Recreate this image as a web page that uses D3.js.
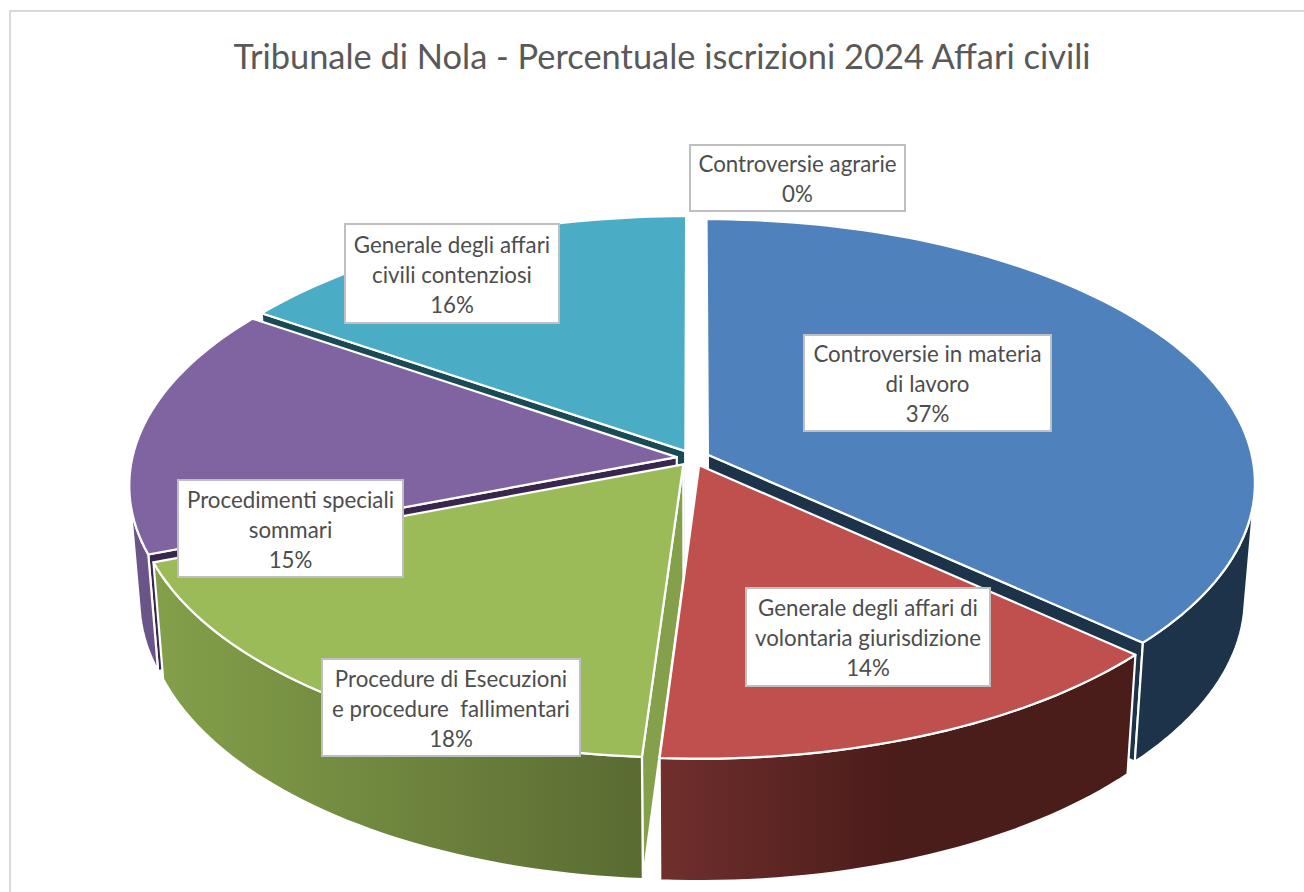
<!DOCTYPE html>
<html><head><meta charset="utf-8">
<script src="https://cdnjs.cloudflare.com/ajax/libs/d3/7.8.5/d3.min.js"></script>
<style>html,body{margin:0;padding:0;background:#fff}svg{display:block}</style>
</head><body><div id="chart"></div>
<script>
const chartTitle = "Tribunale di Nola - Percentuale iscrizioni 2024 Affari civili";
const categories = ["Controversie agrarie","Controversie in materia di lavoro","Generale degli affari di volontaria giurisdizione","Procedure di Esecuzioni e procedure  fallimentari","Procedimenti speciali sommari","Generale degli affari civili contenziosi"];
const values = [0,36.7,14.35,18.1,15.35,15.5];
const labelLines = [["Controversie agrarie"],["Controversie in materia","di lavoro"],["Generale degli affari di","volontaria giurisdizione"],["Procedure di Esecuzioni","e procedure  fallimentari"],["Procedimenti speciali","sommari"],["Generale degli affari","civili contenziosi"]];
const percentLabels = ["0%","37%","14%","18%","15%","16%"];
const topColors = ["#4BACC6","#4F81BD","#C0504D","#9BBB59","#8064A2","#4BACC6"];
const wallLeft  = ["#1a4a55","#1D3349","#702F2D","#84A04A","#6A5488","#1a4a55"];
const wallRight = ["#1a4a55","#1D3349","#4A1C1A","#5A6B32","#6A5488","#1a4a55"];
const wallMidStop = [1,1,0.5,1,1,1];
const cutColors = ["#1a4a55","#1D3349","#4A1C1A","#84A04A","#39264F","#1A4A55"];
const labelBoxes = [[690,145,215,66],[804,335,247,96],[746,588,244,98],[322,659,258,97],[178,480,225,97],[345,224,214,99]];
const drawOrder = [5,1,4,3,2];

const W=1304,H=892;
const svg=d3.select("#chart").append("svg").attr("width",W).attr("height",H);
const defs=svg.append("defs");
svg.append("rect").attr("x",10).attr("y",11).attr("width",W+20).attr("height",H+20).attr("fill","#fff").attr("stroke","#d9d9d9").attr("stroke-width",2);
svg.append("text").attr("x",662).attr("y",69).attr("text-anchor","middle").attr("font-family","Lato, 'Open Sans', sans-serif").attr("font-size",34.4).attr("fill","#595959").text(chartTitle);

// ground-plane projection with mild perspective
const cx=693,cy=458,RX=544.5,RY=261,persp=0.105,explode=0.03,depth=114,shrink=0.982;
const sx=d3.scaleLinear().domain([-1,1]).range([cx-RX,cx+RX]);
const sy=d3.scaleLinear().domain([-1,1]).range([cy-RY,cy+RY]);
function project(X,Y,bottom){
  const s=1/(1-persp*Y), k=bottom?shrink:1;
  const px=cx+(sx(X)-cx)*s*k;
  const py=cy+(sy(Y)-cy)*s*k+(bottom?depth*s:0);
  return [px,py];
}
const arcs=d3.pie().sort(null).value(d=>d)(values);
const line=d3.line();
function slice(i){
  const a=arcs[i], mid=(a.startAngle+a.endAngle)/2;
  const ox=explode*Math.sin(mid), oy=-explode*Math.cos(mid);
  const n=Math.max(2,Math.ceil((a.endAngle-a.startAngle)*40));
  const rim=d3.range(n+1).map(j=>{const t=a.startAngle+(a.endAngle-a.startAngle)*j/n;return [ox+Math.sin(t),oy-Math.cos(t)];});
  return {apex:[ox,oy],rim};
}
const quad=(P,Q)=>[project(P[0],P[1]),project(Q[0],Q[1]),project(Q[0],Q[1],true),project(P[0],P[1],true)];
const facing=q=>d3.polygonArea(q)>0;
const root=svg.append("g");
drawOrder.forEach(i=>{
  const s=slice(i), g=root.append("g");
  const gid="wall"+i;
  const lastPt=s.rim[s.rim.length-1];
  const lg=defs.append("linearGradient").attr("id",gid).attr("gradientUnits","userSpaceOnUse")
    .attr("x1",project(lastPt[0],lastPt[1])[0]).attr("x2",project(s.rim[0][0],s.rim[0][1])[0]).attr("y1",0).attr("y2",0);
  lg.append("stop").attr("offset",0).attr("stop-color",wallLeft[i]);
  lg.append("stop").attr("offset",wallMidStop[i]).attr("stop-color",wallRight[i]);
  const strokeW=2.2;
  [[s.apex,s.rim[0]],[lastPt,s.apex]].forEach(([A,B])=>{
    const q=quad(A,B);
    if(facing(q)){
      g.append("path").attr("d",line(q)+"Z").attr("fill",cutColors[i]).attr("stroke","#fff").attr("stroke-width",strokeW).attr("stroke-linejoin","round");
    }
  });
  const vis=[];
  for(let j=0;j<s.rim.length-1;j++){
    if(facing(quad(s.rim[j],s.rim[j+1]))){ vis.push(s.rim[j]); vis.push(s.rim[j+1]); }
  }
  if(vis.length){
    const top=vis.map(p=>project(p[0],p[1])), bot=vis.map(p=>project(p[0],p[1],true)).reverse();
    g.append("path").attr("d",line(top.concat(bot))+"Z").attr("fill",`url(#${gid})`).attr("stroke","#fff").attr("stroke-width",strokeW).attr("stroke-linejoin","round");
  }
  const poly=[project(s.apex[0],s.apex[1])].concat(s.rim.map(p=>project(p[0],p[1])));
  g.append("path").attr("d",line(poly)+"Z").attr("fill",topColors[i]).attr("stroke","#fff").attr("stroke-width",strokeW).attr("stroke-linejoin","round");
});

const labels=svg.append("g").attr("font-family","Lato, 'Open Sans', sans-serif").attr("font-size",22.3).attr("fill","#4d4d4d");
categories.forEach((c,i)=>{
  const [x,y,w,h]=labelBoxes[i];
  labels.append("rect").attr("x",x).attr("y",y).attr("width",w).attr("height",h).attr("fill","#fff").attr("stroke","#bfbfbf").attr("stroke-width",2);
  const lines=labelLines[i].concat([percentLabels[i]]);
  const total=(lines.length-1)*30;
  lines.forEach((t,k)=>{
    labels.append("text").attr("x",x+w/2).attr("y",y+h/2-total/2+k*30+9).attr("text-anchor","middle").style("white-space","pre").text(t);
  });
});
</script></body></html>
